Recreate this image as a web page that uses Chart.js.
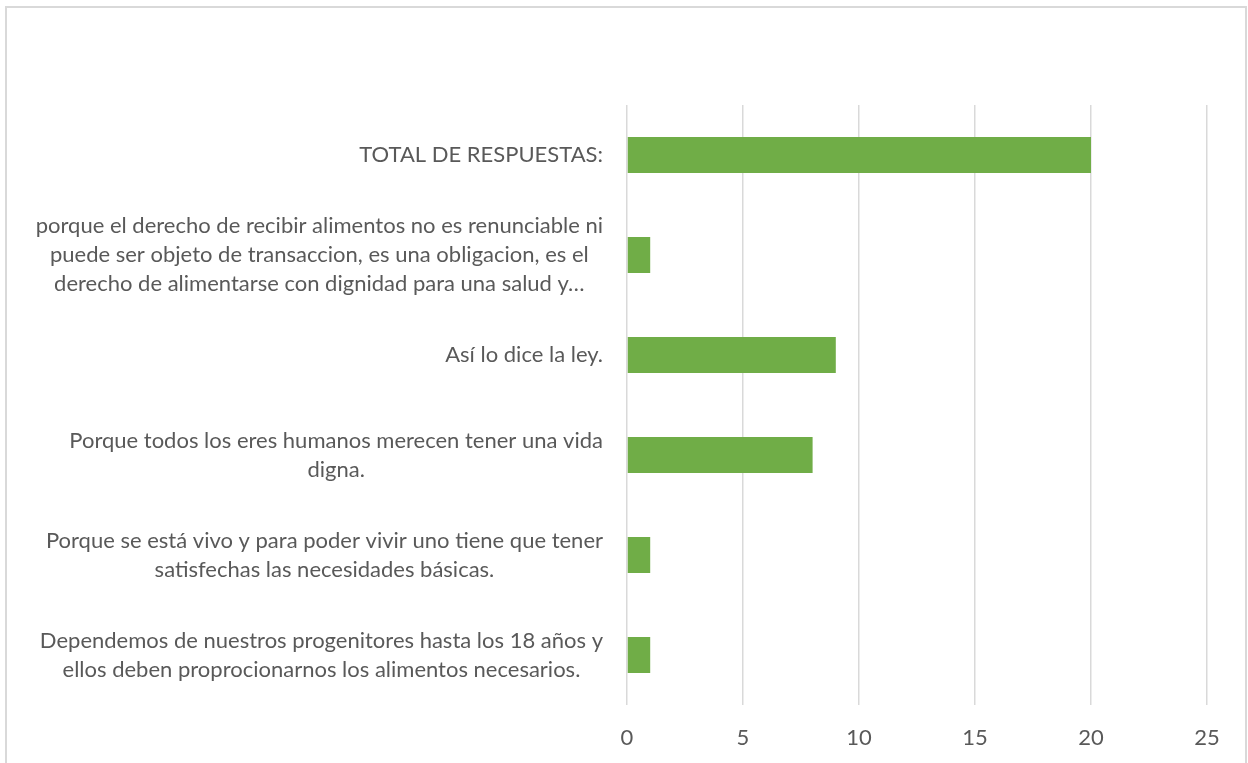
<!DOCTYPE html>
<html>
<head>
<meta charset="utf-8">
<script src="https://cdn.jsdelivr.net/npm/chart.js@4"></script>
<style>
  html, body { margin: 0; padding: 0; background: #fff; }
  #wrap { position: absolute; left: 0; top: 0; width: 1248px; height: 763px; }
</style>
</head>
<body>
<div id="wrap"><canvas id="myChart" width="1248" height="763"></canvas></div>
<script>
// answers, top to bottom, each split into the lines shown beside the bar
const categories = [
  ["TOTAL DE RESPUESTAS:"],
  ["porque el derecho de recibir alimentos no es renunciable ni",
   "puede ser objeto de transaccion, es una obligacion, es el",
   "derecho de alimentarse con dignidad para una salud y…"],
  ["Así lo dice la ley."],
  ["Porque todos los eres humanos merecen tener una vida",
   "digna."],
  ["Porque se está vivo y para poder vivir uno tiene que tener",
   "satisfechas las necesidades básicas."],
  ["Dependemos de nuestros progenitores hasta los 18 años y",
   "ellos deben proprocionarnos los alimentos necesarios."]
];
const counts = [20, 1, 9, 8, 1, 1];
const xTicks = [0, 5, 10, 15, 20, 25];

const FONT = "Lato, 'Open Sans', sans-serif";
const TEXT = "#595959";
const GRID = "#d9d9d9";

// outer frame around the whole chart
const framePlugin = {
  id: "frame",
  beforeDraw(chart) {
    const c = chart.ctx;
    c.save();
    c.fillStyle = "#fff";
    c.fillRect(0, 0, chart.width, chart.height);
    c.strokeStyle = GRID;
    c.lineWidth = 2;
    c.strokeRect(6, 7, 1240, 800);
    c.restore();
  }
};

// category labels: block right-aligned to the axis, lines centred inside it
const labelPlugin = {
  id: "blockLabels",
  afterDraw(chart) {
    const c = chart.ctx;
    const yScale = chart.scales.y;
    const right = chart.chartArea.left - 24;
    const lineH = 29;
    c.save();
    c.font = "22px " + FONT;
    c.fillStyle = TEXT;
    c.textAlign = "center";
    c.textBaseline = "middle";
    categories.forEach((lines, i) => {
      const cy = yScale.getPixelForValue(i);
      const w = Math.max(...lines.map((l) => c.measureText(l).width));
      const cx = right - w / 2;
      lines.forEach((line, j) => {
        c.fillText(line, cx, cy + (j - (lines.length - 1) / 2) * lineH);
      });
    });
    c.restore();
  }
};

const ctx = document.getElementById("myChart");
const myChart = new Chart(ctx, {
  type: "bar",
  data: {
    labels: categories.map((l) => l.join(" ")),
    datasets: [
      {
        label: "Respuestas",
        data: counts,
        backgroundColor: "#70ad47",
        borderWidth: 0,
        categoryPercentage: 0.8,
        barPercentage: 0.45,
      },
    ],
  },
  options: {
    indexAxis: "y",
    responsive: false,
    animation: false,
    layout: { padding: { top: 105, right: 41, left: 0, bottom: 0 } },
    plugins: {
      legend: { display: false },
      tooltip: { enabled: false },
    },
    scales: {
      x: {
        min: 0,
        max: 25,
        afterBuildTicks: (scale) => {
          scale.ticks = xTicks.map((v) => ({ value: v }));
        },
        afterFit: (scale) => { scale.height = 58; },
        grid: { color: GRID, lineWidth: 1.5, drawTicks: false },
        border: { display: false },
        ticks: {
          color: TEXT,
          padding: 20,
          font: { family: FONT, size: 22 },
        },
      },
      y: {
        afterFit: (scale) => { scale.width = 627; },
        grid: { display: false },
        border: { display: false },
        ticks: { display: false },
      },
    },
  },
  plugins: [framePlugin, labelPlugin],
});
</script>
</body>
</html>
